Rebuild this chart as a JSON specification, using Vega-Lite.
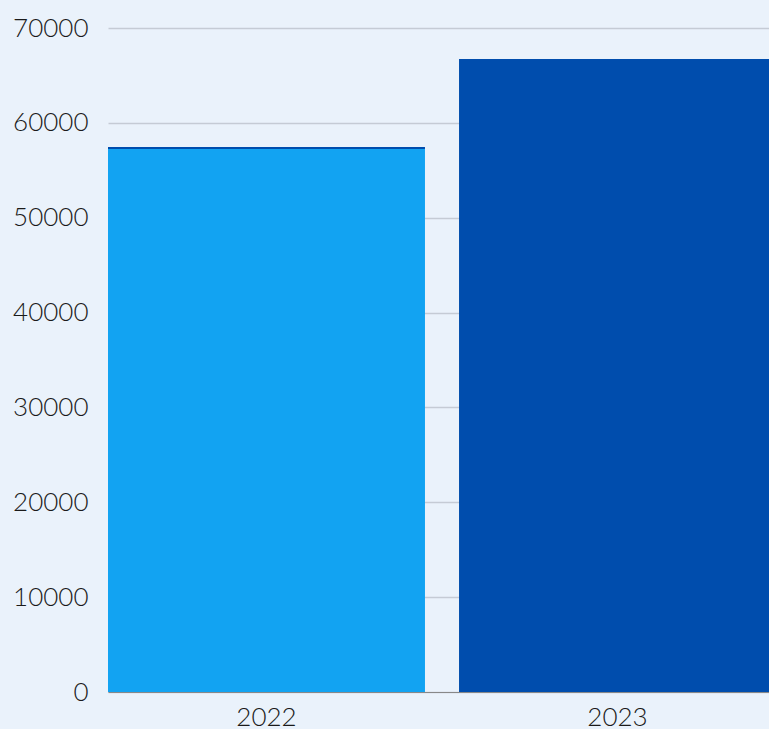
{
  "$schema": "https://vega.github.io/schema/vega-lite/v6.json",
  "autosize": {"type": "none"},
  "padding": {"left": 108, "top": 28, "right": 0, "bottom": 37},
  "width": 668,
  "height": 664,
  "background": "#EAF2FB",
  "config": {"view": {"stroke": null}, "font": "Lato"},
  "data": {"values": [
    {"year": "2022", "series": "A", "value": 57250},
    {"year": "2022", "series": "B", "value": 200},
    {"year": "2023", "series": "B", "value": 66730}
  ]},
  "mark": {"type": "bar"},
  "encoding": {
    "x": {"field": "year", "type": "nominal", "scale": {"paddingInner": 0.097, "paddingOuter": 0},
      "axis": {"title": null, "labelAngle": 0, "labelFontSize": 26, "labelFontWeight": 300, "labelColor": "#1a1a1a", "labelPadding": 12, "ticks": false, "domainColor": "#888888", "domainWidth": 1}},
    "y": {"field": "value", "type": "quantitative", "stack": "zero", "scale": {"domain": [0, 70000], "nice": false},
      "axis": {"title": null, "tickCount": 7, "labelFontSize": 26, "labelFontWeight": 300, "labelColor": "#1a1a1a", "labelPadding": 20, "ticks": false, "domain": false, "gridColor": "#C5CBD5", "gridWidth": 1.5, "format": "d"}},
    "color": {"field": "series", "type": "nominal", "scale": {"domain": ["A", "B"], "range": ["#12A3F2", "#004DAD"]}, "legend": null},
    "order": {"field": "series"}
  }
}
